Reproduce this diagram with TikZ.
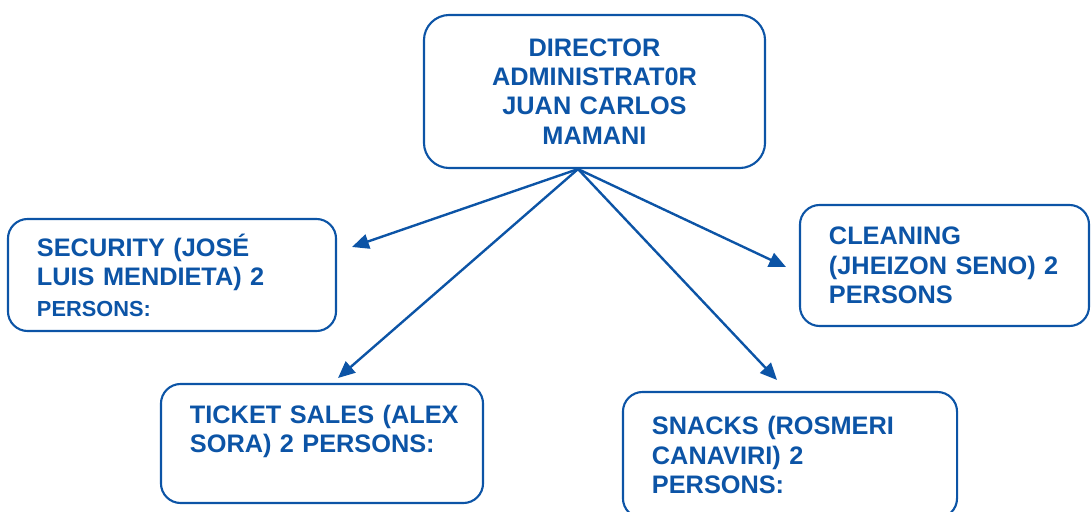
\documentclass[tikz,border=0pt]{standalone}
\usepackage{fontspec}
\setmainfont{Liberation Sans}
\usetikzlibrary{arrows.meta}
\definecolor{orgblue}{RGB}{12,84,166}

\begin{document}
\begin{tikzpicture}[x=0.025cm, y=-0.025cm,
		box/.style = {draw=orgblue, line width=1.5pt, rounded corners=14pt, text=orgblue,
			font=\fontsize{18}{20.8}\selectfont\bfseries, align=left, inner xsep=0.725cm},
		link/.style = {draw=orgblue, line width=1.7pt, -{Triangle[length=12pt,width=10.5pt]}}]
		\useasboundingbox (0,0) rectangle (1091,512);
		\clip (0,0) rectangle (1091,512);
		\node[box, rounded corners=18pt, align=center, minimum width=8.525cm, minimum height=3.825cm, text width=7.075cm] (dir) at (594.5,91.5)
			{DIRECTOR\\ ADMINISTRAT0R\\ JUAN CARLOS\\ MAMANI};
		\node[box, minimum width=8.2cm, minimum height=2.8cm, text width=6.75cm] (sec) at (172,275)
			{SECURITY (JOSÉ\\ LUIS MENDIETA) 2\\[1pt] {\fontsize{15.5}{17}\selectfont PERSONS:}};
		\node[box, minimum width=7.225cm, minimum height=3.025cm, text width=5.775cm] (cln) at (944.5,265.5)
			{CLEANING\\ (JHEIZON SENO) 2\\ PERSONS};
		\node[box, minimum width=8.05cm, minimum height=2.975cm, text width=6.6cm] (tkt) at (322,443.5)
			{\mbox{TICKET SALES (ALEX}\\ SORA) 2 PERSONS:\\ ~};
		\node[box, minimum width=8.35cm, minimum height=3.15cm, text width=6.9cm] (snk) at (790,455)
			{SNACKS (ROSMERI\\ CANAVIRI) 2\\ PERSONS:};
		% arrow tips stop short of the boxes
		\coordinate (sectip) at (352,247);
		\coordinate (clntip) at (786,267);
		\coordinate (tkttip) at (338,378);
		\coordinate (snktip) at (777,380);
		\draw[link] (dir.258) -- (sectip);
		\draw[link] (dir.258) -- (clntip);
		\draw[link] (dir.258) -- (tkttip);
		\draw[link] (dir.258) -- (snktip);
	\end{tikzpicture}
\end{document}
